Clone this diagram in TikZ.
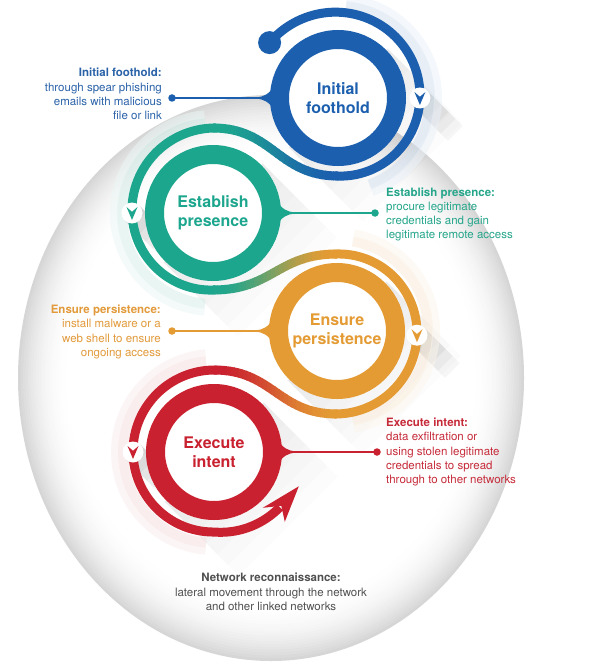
\documentclass[tikz,border=0pt]{standalone}
\usepackage{fontspec}
\setmainfont{TeX Gyre Heros}
\usetikzlibrary{arrows.meta,calc}
\definecolor{cBlue}{HTML}{1B5FAE}
\definecolor{cTeal}{HTML}{1DA68E}
\definecolor{cOrange}{HTML}{E49B33}
\definecolor{cRed}{HTML}{C9212F}
\definecolor{tBlue}{HTML}{2A62A8}
\definecolor{tTeal}{HTML}{25A68B}
\definecolor{tOrange}{HTML}{E29A3A}
\definecolor{tRed}{HTML}{C62B3A}
\definecolor{tGray}{HTML}{505050}
\newcommand{\sband}[6]{%
  \foreach \k in {0,...,29}{%
    \pgfmathsetmacro{\sxa}{#1+(#3-#1)*\k/30}%
    \pgfmathsetmacro{\sxb}{#1+(#3-#1)*(\k+1)/30+0.6*sign(#3-#1)}%
    \pgfmathsetmacro{\stq}{(\k+0.5)/30}%
    \pgfmathtruncatemacro{\spp}{100*(1-\stq*\stq*(3-2*\stq))}%
    \begin{scope}
      \clip (\sxa,{min(#2,#4)-12}) rectangle (\sxb,{max(#2,#4)+12});
      \draw[band, color=#5!\spp!#6] (#1,#2) .. controls ({#1+0.48*(#3-#1)},#2) and ({#3-0.48*(#3-#1)},#4) .. (#3,#4);
    \end{scope}
  }}
\begin{document}
\begin{tikzpicture}[x=1pt,y=-1pt,
  ringline/.style={line width=19pt},
  band/.style={line width=9pt},
  title/.style={circle, minimum size=136pt, inner sep=0pt, font=\fontsize{16}{18.5}\selectfont\bfseries, align=center},
  lbl/.style={font=\fontsize{11.5}{14.3}\selectfont, inner sep=0pt},
  dotn/.style={circle, inner sep=0pt, minimum size=7.5pt},
  chev/.style={circle, fill=white, minimum size=21pt, inner sep=0pt},
  startdot/.style={circle, inner sep=0pt, minimum size=23pt},
  conn/.style={line width=1.6pt},
  halo/.style={line width=10pt, opacity=0.5},
  chevron/.pic={\fill (-5.5,-6) -- (0,-1.2) -- (5.5,-6) -- (0,7) -- cycle;},
  flare/.pic={\fill (63,-13) .. controls (69,-4) and (74,-0.8) .. (82,-0.8) -- (82,0.8) .. controls (74,0.8) and (69,4) .. (63,13) -- cycle;}
]
\path[use as bounding box] (0,0) rectangle (591,671);
\fill[white] (0,0) rectangle (591,671);
% background sphere: concentric ellipses from grey edge to white centre
\foreach \i in {0,...,20}{
  \pgfmathsetmacro{\gv}{16*(1-\i/20)^2}
  \pgfmathsetmacro{\sc}{1-\i*0.01}
  \fill[black!\gv] (271,378) ellipse [x radius={253*\sc}, y radius={283*\sc}];
}

% centres
\coordinate (c1) at (338,98);
\coordinate (c2) at (213,213);
\coordinate (c3) at (337,331);
\coordinate (c4) at (214,452);
\coordinate (p1) at (419.9,98);
\coordinate (p2) at (132,213);
\coordinate (p3) at (417,335.2);
\coordinate (p4) at (133,452);

% long shadows of the discs
\foreach \c in {c1,c2,c3,c4}{
  \foreach \L in {15,30,45,60,75,90,105}{
    \fill[black, opacity=0.011] ($(\c)+(49.5,-49.5)$) -- ($(\c)+(-49.5,49.5)$) -- ++({\L*0.707},{\L*0.707}) -- ($(\c)+({49.5+\L*0.707},{-49.5+\L*0.707})$) -- cycle;
  }}
% long shadows of the chevron discs
\foreach \c in {p1,p2,p3,p4}{
  \foreach \L in {10,20,30,40,50}{
    \fill[black, opacity=0.035] ($(\c)+(7.4,-7.4)$) -- ($(\c)+(-7.4,7.4)$) -- ++({\L*0.707},{\L*0.707}) -- ($(\c)+({7.4+\L*0.707},{-7.4+\L*0.707})$) -- cycle;
  }}
\foreach \c in {c1,c2,c3,c4}{\fill[white] (\c) circle[radius=50];}

% glows
\draw[halo, cBlue!20] ([shift={(-85:92)}]c1) arc[start angle=-85, end angle=70, radius=92];
\draw[halo, cBlue!9, line width=8pt] ([shift={(-85:100)}]c1) arc[start angle=-85, end angle=70, radius=100];
\draw[halo, cTeal!20] ([shift={(95:91)}]c2) arc[start angle=95, end angle=265, radius=91];
\draw[halo, cTeal!9, line width=8pt] ([shift={(95:99)}]c2) arc[start angle=95, end angle=265, radius=99];
\draw[halo, cOrange!20] ([shift={(-80:91)}]c3) arc[start angle=-80, end angle=80, radius=91];
\draw[halo, cOrange!9, line width=8pt] ([shift={(-80:99)}]c3) arc[start angle=-80, end angle=80, radius=99];
\draw[halo, cRed!16] ([shift={(95:91)}]c4) arc[start angle=95, end angle=265, radius=91];
\draw[halo, cRed!8, line width=8pt] ([shift={(95:99)}]c4) arc[start angle=95, end angle=265, radius=99];

% outer spiral bands
\draw[band, cBlue] plot[domain=-141:92, samples=90] ({338+(88-(\x+141)*0.043)*cos(\x)}, {98+(88-(\x+141)*0.043)*sin(\x)});
\sband{338}{176}{213}{128}{cBlue}{cTeal}
\draw[band, cTeal] plot[domain=-272:-88, samples=90] ({213+(85+(90+\x)*0.0444)*cos(\x)}, {213+(85+(90+\x)*0.0444)*sin(\x)});
\sband{213}{290}{337}{254}{cTeal}{cOrange}
\draw[band, cOrange] plot[domain=-92:92, samples=90] ({337+(77+(\x+90)*0.0333)*cos(\x)}, {331+(77+(\x+90)*0.0333)*sin(\x)});
\sband{337}{414}{214}{370}{cOrange}{cRed}
\draw[band, cRed] plot[domain=-2:230, samples=100] ({214+(82-0.0111*\x+max(0,\x-180)*0.13)*cos(-90-\x)}, {452+(82-0.0111*\x+max(0,\x-180)*0.13)*sin(-90-\x)});
\coordinate (an) at (279.8,507.3);
\fill[cRed] ($(an)+(19,-21)$) -- ($(an)+(5,14.5)$) -- ($(an)+(1.5,-1.5)$) -- ($(an)+(-17,0.5)$) -- cycle;

% thick rings
\draw[ringline, cBlue] (c1) circle[radius=58.5];
\draw[ringline, cTeal] (c2) circle[radius=58.5];
\draw[ringline, cOrange] (c3) circle[radius=58.5];
\draw[ringline, cRed] (c4) circle[radius=58.5];

% start dot
\node[startdot, fill=cBlue] (s1) at ({338+88*cos(-141)}, {98+88*sin(-141)}) {};

% titles
\node[title, text=cBlue] (r1) at (c1) {Initial\\foothold};
\node[title, text=cTeal] (r2) at (c2) {Establish\\presence};
\node[title, text=cOrange] (r3) at (c3) {Ensure\\persistence};
\node[title, text=cRed] (r4) at (c4) {Execute\\intent};

% connectors
\pic[cBlue, xscale=-1] at (c1) {flare};
\pic[cTeal] at (c2) {flare};
\pic[cOrange, xscale=-1] at (c3) {flare};
\pic[cRed] at (c4) {flare};
\node[dotn, fill=cBlue] (d1) at (172,98) {};
\node[dotn, fill=cTeal] (d2) at (375,213) {};
\node[dotn, fill=cOrange] (d3) at (172,331) {};
\node[dotn, fill=cRed] (d4) at (377,452) {};
\draw[conn, cBlue] (d1.center) -- (r1.west);
\draw[conn, cTeal] (d2.center) -- (r2.east);
\draw[conn, cOrange] (d3.center) -- (r3.west);
\draw[conn, cRed] (d4.center) -- (r4.east);

% chevron markers
\node[chev] (ch1) at (p1) {};
\node[chev] (ch2) at (p2) {};
\node[chev] (ch3) at (p3) {};
\node[chev] (ch4) at (p4) {};
\pic[cBlue] at (ch1) {chevron};
\pic[cTeal] at (ch2) {chevron};
\pic[cOrange] at (ch3) {chevron};
\pic[cRed] at (ch4) {chevron};

% labels
\node[lbl, text=tBlue, align=right, anchor=east] (l1) at (162,94) {\textbf{Initial foothold:}\\through spear phishing\\emails with malicious\\file or link};
\node[lbl, text=tTeal, align=left, anchor=west] (l2) at (386,214.5) {\textbf{Establish presence:}\\procure legitimate\\credentials and gain\\legitimate remote access};
\node[lbl, text=tOrange, align=right, anchor=east] (l3) at (161,332) {\textbf{Ensure persistence:}\\install malware or a\\web shell to ensure\\ongoing access};
\node[lbl, text=tRed, align=left, anchor=west] (l4) at (386,452) {\textbf{Execute intent:}\\data exfiltration or\\using stolen legitimate\\credentials to spread\\through to other networks};
\node[lbl, text=tGray, align=center] (l5) at (271,592) {\textbf{Network reconnaissance:}\\lateral movement through the network\\and other linked networks};
\end{tikzpicture}
\end{document}
